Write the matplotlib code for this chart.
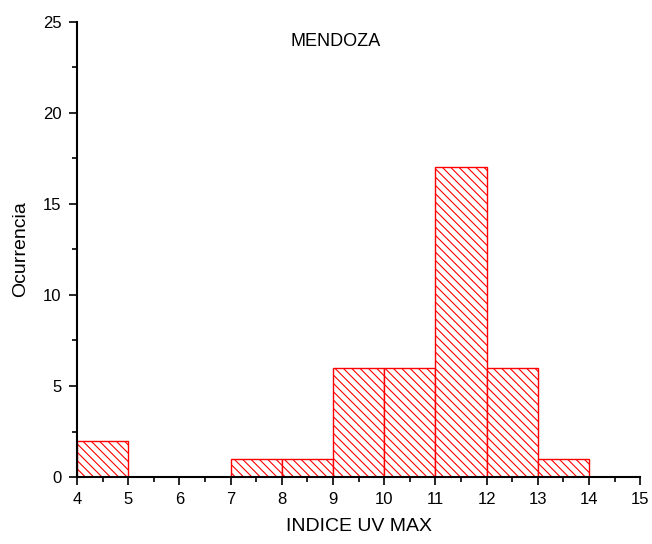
import matplotlib.pyplot as plt
from matplotlib.ticker import MultipleLocator

plt.rcParams['font.family'] = ['Liberation Sans', 'DejaVu Sans']
plt.rcParams['hatch.color'] = 'red'
plt.rcParams['hatch.linewidth'] = 0.8

# Histogram bins (left edges) and counts
bin_left = [4, 5, 6, 7, 8, 9, 10, 11, 12, 13, 14]
counts = [2, 0, 0, 1, 1, 6, 6, 17, 6, 1, 0]

fig = plt.figure(figsize=(6.52, 5.44), dpi=100)
ax = fig.add_axes([0.118, 0.123, 0.864, 0.837])

ax.bar(bin_left, counts, width=1, align='edge', facecolor='white',
       edgecolor='red', hatch='\\\\\\\\', linewidth=1.0)

ax.set_xlim(4, 15)
ax.set_ylim(0, 25)
ax.xaxis.set_major_locator(MultipleLocator(1))
ax.xaxis.set_minor_locator(MultipleLocator(0.5))
ax.yaxis.set_major_locator(MultipleLocator(5))
ax.yaxis.set_minor_locator(MultipleLocator(2.5))
ax.tick_params(which='major', direction='out', length=6, width=1.2,
               labelsize=12, pad=5)
ax.tick_params(which='minor', direction='out', length=3.5, width=1.2)

for s in ['top', 'right']:
    ax.spines[s].set_visible(False)
for s in ['left', 'bottom']:
    ax.spines[s].set_linewidth(1.5)

ax.set_xlabel('INDICE UV MAX', fontsize=14, labelpad=8)
ax.set_ylabel('Ocurrencia', fontsize=14, labelpad=10)
ax.text(9.05, 23.9, 'MENDOZA', ha='center', va='center', fontsize=13)

fig.savefig('out.png', dpi=100)
